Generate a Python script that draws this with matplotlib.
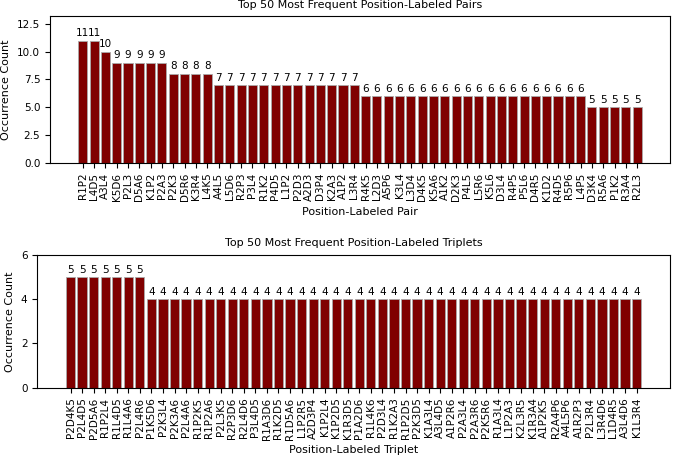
import matplotlib
matplotlib.use("Agg")
import matplotlib.pyplot as plt

pair_labels = ["R1P2", "L4D5", "A3L4", "K5D6", "P2L3", "D5A6", "K1P2", "P2A3", "P2K3", "D5R6",
               "K3R4", "L4K5", "A4L5", "L5D6", "R2P3", "P3L4", "R1K2", "P4D5", "L1P2", "P2D3",
               "A2D3", "D3P4", "K2A3", "A1P2", "L3R4", "R4K5", "L2D3", "A5P6", "K3L4", "L3D4",
               "D4K5", "K5A6", "A1K2", "D2K3", "P4L5", "L5R6", "K5L6", "D3L4", "R4P5", "P5L6",
               "D4R5", "K1D2", "R4D5", "R5P6", "L4P5", "D3K4", "R5A6", "P1K2", "R3A4", "R2L3"]
pair_counts = [11, 11, 10, 9, 9, 9, 9, 9, 8, 8,
               8, 8, 7, 7, 7, 7, 7, 7, 7, 7,
               7, 7, 7, 7, 7, 6, 6, 6, 6, 6,
               6, 6, 6, 6, 6, 6, 6, 6, 6, 6,
               6, 6, 6, 6, 6, 5, 5, 5, 5, 5]

triplet_labels = ["P2D4K5", "P2L4D5", "P2D5A6", "R1P2L4", "R1L4D5", "R1L4A6", "P2L4R6", "P1K5D6",
                  "P2K3L4", "P2K3A6", "P2L4A6", "R1P2K5", "R1P2A6", "P2L3K5", "R2P3D6", "R2L4D6",
                  "P3L4D5", "R1A3D6", "R1K2D5", "R1D5A6", "L1P2R5", "A2D3P4", "K1P2L4", "K1P2D5",
                  "K1R3D5", "P1A2D6", "R1L4K6", "P2D3L4", "R1K2A3", "R1P2D5", "P2K3D5", "K1A3L4",
                  "A3L4D5", "A1P2R6", "P2A3L4", "P2A3R6", "P2K5R6", "R1A3L4", "L1P2A3", "K2L3R5",
                  "K1R3A4", "A1P2K5", "R2A4P6", "A4L5P6", "A1R2P3", "P2L3R4", "L3R4D6", "L1D4R5",
                  "A3L4D6", "K1L3R4"]
triplet_counts = [5] * 7 + [4] * 43

fig = plt.figure(figsize=(6.76, 4.59), dpi=100)
ax1 = fig.add_axes([0.074, 0.645, 0.917, 0.320])
ax2 = fig.add_axes([0.055, 0.155, 0.936, 0.290])

fs = 7.5

def draw(ax, labels, counts, title, xlabel, yticks):
    x = range(len(labels))
    bars = ax.bar(x, counts, color="#800000", edgecolor="#aaaaaa", linewidth=0.6)
    for b, c in zip(bars, counts):
        ax.text(b.get_x() + b.get_width() / 2, c + max(counts) * 0.02, str(c),
                ha="center", va="bottom", fontsize=fs)
    ax.set_xticks(list(x))
    ax.set_xticklabels(labels, rotation=90, fontsize=fs)
    ax.set_yticks(yticks)
    ax.tick_params(axis="y", labelsize=fs)
    ax.set_ylim(0, max(counts) * 1.2)
    ax.set_title(title, fontsize=8)
    ax.set_xlabel(xlabel, fontsize=8)
    ax.set_ylabel("Occurrence Count", fontsize=8)

draw(ax1, pair_labels, pair_counts, "Top 50 Most Frequent Position-Labeled Pairs",
     "Position-Labeled Pair", [0.0, 2.5, 5.0, 7.5, 10.0, 12.5])
draw(ax2, triplet_labels, triplet_counts, "Top 50 Most Frequent Position-Labeled Triplets",
     "Position-Labeled Triplet", [0, 2, 4, 6])

fig.savefig("out.png", dpi=100)
